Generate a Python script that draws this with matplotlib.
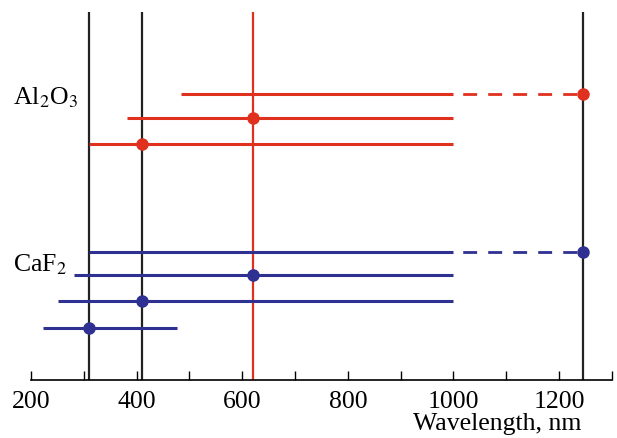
import matplotlib.pyplot as plt
import numpy as np

# laser / reference wavelengths, nm
ref_nm = [310, 410, 620, 1245]
ref_colors = ["#222222", "#222222", "#e0301e", "#222222"]

# Al2O3 bands: marker position, solid span start / end
al_center = [1245, 620, 410]
al_lo = [484, 382, 310]
al_hi = [1000, 1000, 1000]
al_level = [9.19, 8.25, 7.22]

# CaF2 bands
ca_center = [1245, 620, 410, 310]
ca_lo = [310, 281, 251, 223]
ca_hi = [1000, 1000, 1000, 477]
ca_level = [2.99, 2.07, 1.05, 0.0]

red = "#e0301e"
blue = "#2e3192"

plt.rcParams["font.family"] = ["Liberation Serif", "DejaVu Serif"]
plt.rcParams["mathtext.fontset"] = "stix"

fig = plt.figure(figsize=(6.17, 4.39), dpi=100)
ax = fig.add_axes([0.0502, 0.1328, 0.9416, 0.8376])

for x, c in zip(ref_nm, ref_colors):
    ax.axvline(x, color=c, lw=1.6, zorder=1)


def draw_bands(center, lo, hi, level, color):
    for c, a, b, y in zip(center, lo, hi, level):
        ax.plot([a, b], [y, y], color=color, lw=2.2, solid_capstyle="butt", zorder=2)
        if c > b:
            ax.plot([b, c], [y, y], color=color, lw=2.0,
                    linestyle=(5.5, (5, 4)), zorder=2)
        ax.plot(c, y, "o", color=color, ms=8, zorder=3)


draw_bands(al_center, al_lo, al_hi, al_level, red)
draw_bands(ca_center, ca_lo, ca_hi, ca_level, blue)

ax.text(289, 9.05, r"Al$_2$O$_3$", fontsize=18.5, ha="right", va="center", clip_on=False)
ax.text(268, 2.5, r"CaF$_2$", fontsize=18.5, ha="right", va="center", clip_on=False)

ax.set_xlim(200, 1300)
ax.set_ylim(-2.03, 12.39)
ax.set_xticks(np.arange(200, 1301, 100))
ax.set_xticklabels([str(v) if v % 200 == 0 and v < 1300 else "" for v in range(200, 1301, 100)])
ax.tick_params(axis="x", direction="in", length=6.5, width=1, pad=7.5, labelsize=18.5)
ax.set_yticks([])
for s in ["top", "right", "left"]:
    ax.spines[s].set_visible(False)
ax.spines["bottom"].set_linewidth(1.2)

ax.set_xlabel("Wavelength, nm", fontsize=18.5, ha="right")
ax.xaxis.set_label_coords(0.947, -0.088)

fig.savefig("out.png", dpi=100)
